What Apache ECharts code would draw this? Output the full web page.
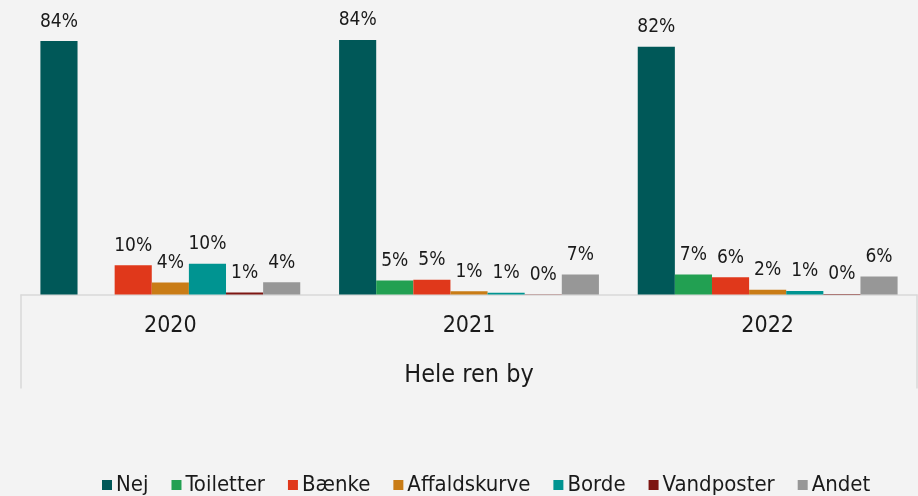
<!DOCTYPE html>
<html><head><meta charset="utf-8">
<script src="https://cdn.jsdelivr.net/npm/echarts@6/dist/echarts.min.js"></script>
<style>html,body{margin:0;padding:0;background:#f3f3f3;}#c{width:918px;height:496px;}</style>
</head><body><div id="c"></div>
<script>
const categories = ['2020', '2021', '2022'];
const outerCategory = ['Hele ren by'];
const seriesNames = ['Nej', 'Toiletter', 'Bænke', 'Affaldskurve', 'Borde', 'Vandposter', 'Andet'];
const nej = [84.0, 84.4, 82.1];
const toiletter = [null, 4.6, 6.6];
const baenke = [9.7, 4.9, 5.7];
const affaldskurve = [4.0, 1.1, 1.6];
const borde = [10.2, 0.6, 1.2];
const vandposter = [0.7, 0.1, 0.2];
const andet = [4.1, 6.6, 6.0];
const colors = ['#005858', '#22a052', '#e0381b', '#c97c16', '#009491', '#7d1511', '#979797'];
const allValues = [nej, toiletter, baenke, affaldskurve, borde, vandposter, andet];

const font = '"DejaVu Sans Condensed", sans-serif';
const chart = echarts.init(document.getElementById('c'));
chart.setOption({
  backgroundColor: '#f3f3f3',
  animation: false,
  textStyle: { fontFamily: font },
  grid: { left: 21, right: 1, top: 23, bottom: 201.5 },
  legend: {
    top: 469, left: 97,
    itemWidth: 10, itemHeight: 10, itemGap: 23,
    icon: 'rect',
    textStyle: { fontSize: 22, color: '#1a1a1a', fontFamily: font, padding: [0, 0, 0, -1] },
    data: seriesNames
  },
  xAxis: [
    {
      type: 'category', data: categories, position: 'bottom',
      axisLine: { lineStyle: { color: '#d9d9d9', width: 1.5 } },
      axisTick: { show: false },
      axisLabel: { fontSize: 23, color: '#1a1a1a', margin: 20, fontFamily: font }
    },
    {
      type: 'category', data: outerCategory, position: 'bottom',
      axisLine: { show: false },
      axisTick: { show: true, length: 94, lineStyle: { color: '#d9d9d9', width: 1.5 } },
      axisLabel: { fontSize: 25, color: '#1a1a1a', margin: 68, fontFamily: font }
    }
  ],
  yAxis: { type: 'value', min: 0, max: 90, show: false, splitLine: { show: false } },
  series: seriesNames.map((n, i) => ({
    name: n, type: 'bar', xAxisIndex: 0,
    data: allValues[i],
    barGap: '0%', barCategoryGap: '13%',
    itemStyle: { color: colors[i] },
    label: {
      show: true, position: 'top', distance: 10,
      fontSize: 19, color: '#1a1a1a', fontFamily: font,
      formatter: p => Math.round(p.value) + '%'
    }
  }))
});
</script></body></html>
